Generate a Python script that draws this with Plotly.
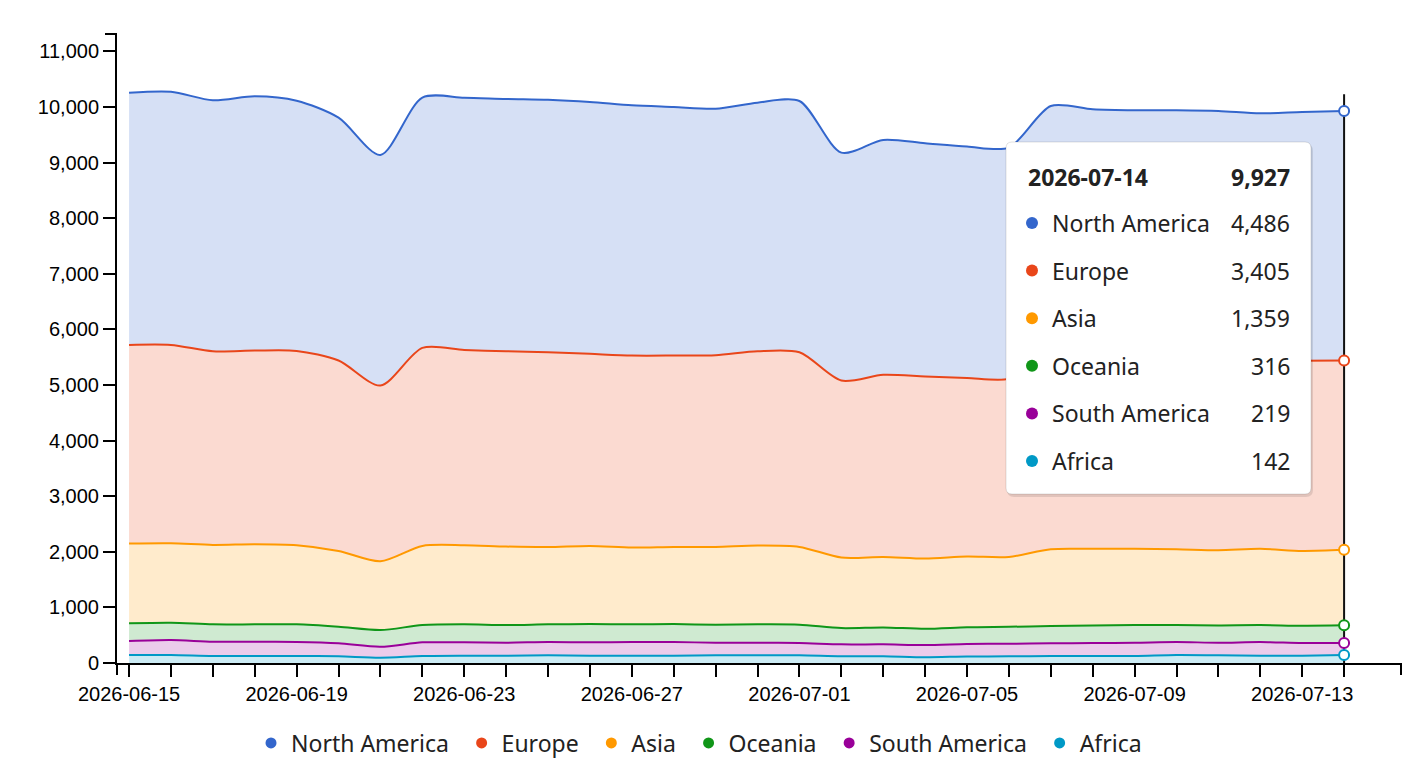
import pandas as pd
import numpy as np
import plotly.graph_objects as go

# ---------------- data ----------------
dates = pd.date_range("2026-06-15", "2026-07-14", freq="D")

regions = ["North America", "Europe", "Asia", "Oceania", "South America", "Africa"]

north_america = [4536, 4554, 4513, 4573, 4500, 4368, 4147, 4501, 4537, 4537,
                 4540, 4530, 4500, 4470, 4434, 4471, 4519, 4099, 4225, 4195,
                 4165, 4160, 4538, 4498, 4490, 4490, 4483, 4466, 4475, 4486]
europe = [3572, 3567, 3483, 3483, 3495, 3424, 3160, 3561, 3513, 3513,
          3504, 3454, 3453, 3442, 3448, 3495, 3501, 3184, 3275, 3274,
          3210, 3202, 3433, 3407, 3397, 3403, 3416, 3367, 3419, 3405]
asia = [1436, 1430, 1429, 1441, 1423, 1364, 1239, 1424, 1423, 1412,
        1390, 1406, 1382, 1388, 1399, 1417, 1399, 1269, 1268, 1263,
        1272, 1256, 1383, 1377, 1371, 1365, 1353, 1371, 1346, 1359]
oceania = [318, 311, 312, 312, 318, 299, 299, 311, 324, 317,
           318, 329, 318, 323, 324, 330, 330, 293, 305, 293,
           302, 305, 311, 317, 317, 305, 311, 305, 311, 316]
south_america = [251, 269, 257, 257, 251, 233, 197, 245, 239, 233,
                 239, 239, 245, 245, 227, 227, 221, 215, 215, 221,
                 224, 227, 227, 233, 239, 233, 227, 245, 227, 219]
africa = [144, 144, 126, 126, 126, 120, 96, 126, 132, 132,
          138, 132, 132, 132, 138, 138, 138, 120, 120, 102,
          117, 120, 126, 126, 126, 144, 138, 132, 132, 142]

values = {
    "North America": north_america,
    "Europe": europe,
    "Asia": asia,
    "Oceania": oceania,
    "South America": south_america,
    "Africa": africa,
}
colors = {
    "North America": "#3366cc",
    "Europe": "#e9461a",
    "Asia": "#ff9900",
    "Oceania": "#109618",
    "South America": "#990099",
    "Africa": "#0099c6",
}
y_ticks = list(range(0, 11001, 1000))
hover_index = len(dates) - 1
cursor_top = 10230

# ---------------- geometry helpers (pixel -> paper) ----------------
W, H = 1424, 770
ML, MR, MT, MB = 117, 23, 34, 107
PW, PH = W - ML - MR, H - MT - MB


def X(p):
    return (p - ML) / PW


def Y(p):
    return (H - MB - p) / PH


def rgba(hex_color, a):
    h = hex_color.lstrip("#")
    r, g, b = int(h[0:2], 16), int(h[2:4], 16), int(h[4:6], 16)
    return f"rgba({r},{g},{b},{a})"


fig = go.Figure()

# stacked areas (bottom first)
stack_order = regions[::-1]
for name in stack_order:
    fig.add_trace(go.Scatter(
        x=dates, y=values[name], name=name, stackgroup="one",
        mode="lines", line=dict(color=colors[name], width=2, shape="spline", smoothing=0.8),
        fillcolor=rgba(colors[name], 0.2), showlegend=False, hoverinfo="skip",
    ))

# cursor line
fig.add_trace(go.Scatter(
    x=[dates[hover_index], dates[hover_index]], y=[0, cursor_top], mode="lines",
    line=dict(color="#111111", width=2), showlegend=False, hoverinfo="skip",
))

# hover markers at stacked tops
cum = np.cumsum([values[n] for n in stack_order], axis=0)
for k, name in enumerate(stack_order):
    fig.add_trace(go.Scatter(
        x=[dates[hover_index]], y=[cum[k][hover_index]], mode="markers",
        marker=dict(size=10, color="white", line=dict(color=colors[name], width=2)),
        showlegend=False, hoverinfo="skip",
    ))

# legend entries
for name in regions:
    fig.add_trace(go.Scatter(
        x=[None], y=[None], mode="markers", name=name + "\u2004",
        marker=dict(size=11, color=colors[name]), showlegend=True,
    ))

# ---------------- tooltip ----------------
def rounded_rect(px0, py0, px1, py1, r):
    return (f"M {X(px0 + r)},{Y(py0)} L {X(px1 - r)},{Y(py0)} "
            f"Q {X(px1)},{Y(py0)} {X(px1)},{Y(py0 + r)} L {X(px1)},{Y(py1 - r)} "
            f"Q {X(px1)},{Y(py1)} {X(px1 - r)},{Y(py1)} L {X(px0 + r)},{Y(py1)} "
            f"Q {X(px0)},{Y(py1)} {X(px0)},{Y(py1 - r)} L {X(px0)},{Y(py0 + r)} "
            f"Q {X(px0)},{Y(py0)} {X(px0 + r)},{Y(py0)} Z")


shapes = []
tx0, ty0, tx1, ty1 = 1006, 142, 1311, 494
shapes.append(dict(type="path", xref="paper", yref="paper", layer="above",
                   path=rounded_rect(tx0 + 1, ty0 + 2, tx1 + 2, ty1 + 3, 7),
                   fillcolor="rgba(0,0,0,0.10)", line=dict(width=0)))
shapes.append(dict(type="path", xref="paper", yref="paper", layer="above",
                   path=rounded_rect(tx0, ty0, tx1, ty1, 6),
                   fillcolor="white", line=dict(color="rgba(0,0,0,0.12)", width=1)))

# outer ticks of the axes (d3-style domain ends)
shapes.append(dict(type="line", xref="paper", yref="paper", layer="above",
                   x0=X(ML), x1=X(ML), y0=0, y1=Y(H - MB + 12), line=dict(color="black", width=2)))
shapes.append(dict(type="line", xref="paper", yref="paper", layer="above",
                   x0=1, x1=1, y0=0, y1=Y(H - MB + 12), line=dict(color="black", width=2)))
shapes.append(dict(type="line", xref="paper", yref="paper", layer="above",
                   x0=X(ML - 12), x1=0, y0=1, y1=1, line=dict(color="black", width=2)))

annotations = []
tip_font = dict(family="Noto Sans, Open Sans, sans-serif", size=23, color="#222222")
total = sum(values[n][hover_index] for n in regions)
annotations.append(dict(xref="paper", yref="paper", x=X(1026), y=Y(177), xanchor="left", yanchor="middle",
                        text=f"<b>{dates[hover_index].strftime('%Y-%m-%d')}</b>", showarrow=False, font=tip_font))
annotations.append(dict(xref="paper", yref="paper", x=X(1292), y=Y(177), xanchor="right", yanchor="middle",
                        text=f"<b>{total:,}</b>", showarrow=False, font=tip_font))
row_y0, row_dy = 223, 47.6
for i, name in enumerate(regions):
    ry = row_y0 + i * row_dy
    shapes.append(dict(type="circle", xref="paper", yref="paper", layer="above",
                       x0=X(1026), x1=X(1038), y0=Y(ry + 6), y1=Y(ry - 6),
                       fillcolor=colors[name], line=dict(width=0)))
    annotations.append(dict(xref="paper", yref="paper", x=X(1050), y=Y(ry), xanchor="left", yanchor="middle",
                            text=name, showarrow=False, font=tip_font))
    annotations.append(dict(xref="paper", yref="paper", x=X(1292), y=Y(ry), xanchor="right", yanchor="middle",
                            text=f"{values[name][hover_index]:,}", showarrow=False, font=tip_font))

tick_font = dict(family="Liberation Sans, Arial, sans-serif", size=20, color="black")
x_range = [dates[0] - pd.Timedelta(hours=6.9), dates[-1] + pd.Timedelta(hours=32.6)]

fig.update_layout(
    width=W, height=H,
    margin=dict(l=ML, r=MR, t=MT, b=MB, pad=0, autoexpand=False),
    paper_bgcolor="white", plot_bgcolor="white",
    hovermode=False,
    shapes=shapes, annotations=annotations,
    showlegend=True,
    legend=dict(orientation="h", traceorder="normal",
                xref="container", yref="container",
                x=251 / W, xanchor="left", y=(H - 743) / H, yanchor="middle",
                font=dict(family="Noto Sans, Open Sans, sans-serif", size=23, color="#222222"),
                itemclick=False, bgcolor="rgba(0,0,0,0)"),
    xaxis=dict(
        range=x_range, type="date",
        tickvals=list(dates),
        ticktext=[d.strftime("%Y-%m-%d") if i % 4 == 0 else "" for i, d in enumerate(dates)],
        showgrid=False, zeroline=False, showline=True, linecolor="black", linewidth=2,
        ticks="outside", ticklen=12, tickwidth=2, tickcolor="black",
        tickfont=tick_font, fixedrange=True,
    ),
    yaxis=dict(
        range=[0, 11313], tickvals=y_ticks, tickformat=",d",
        showgrid=False, zeroline=False, showline=True, linecolor="black", linewidth=2,
        ticks="outside", ticklen=12, tickwidth=2, tickcolor="black",
        tickfont=tick_font, fixedrange=True,
    ),
)

fig.write_html("out.html", config={"displayModeBar": False})
